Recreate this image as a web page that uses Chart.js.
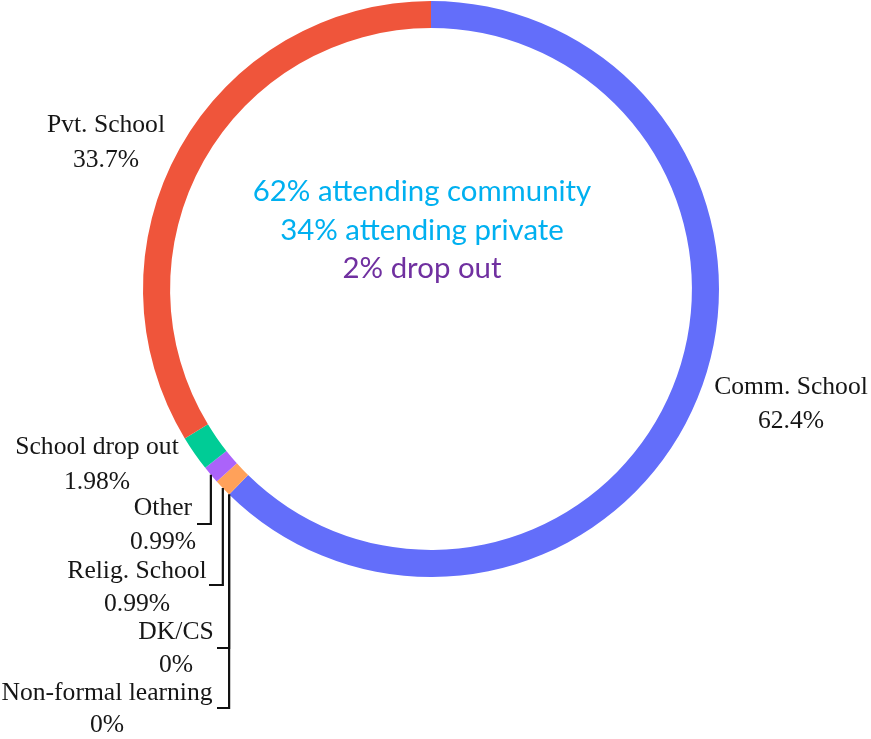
<!DOCTYPE html>
<html>
<head>
<meta charset="utf-8">
<script src="https://cdn.jsdelivr.net/npm/chart.js@4.4.1/dist/chart.umd.min.js"></script>
<style>
  html, body { margin: 0; padding: 0; background: #fff; }
  #wrap { width: 871px; height: 739px; position: relative; }
</style>
</head>
<body>
<div id="wrap"><canvas id="donut"></canvas></div>
<script>
// slices in clockwise order from 12 o'clock
const categories = ["Comm. School", "DK/CS", "Non-formal learning", "Relig. School", "Other", "School drop out", "Pvt. School"];
const shares = [62.4, 0, 0, 0.99, 0.99, 1.98, 33.7];
const shareLabels = ["62.4%", "0%", "0%", "0.99%", "0.99%", "1.98%", "33.7%"];
const sliceColors = ["#636EFA", "#19D3F3", "#FF6692", "#FFA15A", "#AB63FA", "#00CC96", "#EF553B"];
const centerLines = ["62% attending community", "34% attending private", "2% drop out"];
const centerColors = ["#00B0F0", "#00B0F0", "#7030A0"];

// where each outside label sits (text centre x, two line y's), plus leader elbow if any
const labelLayout = {
  "Comm. School":        { x: 791, y1: 387, y2: 421 },
  "Pvt. School":         { x: 106, y1: 125, y2: 160 },
  "School drop out":     { x: 97,  y1: 447, y2: 482 },
  "Other":               { x: 163, y1: 508, y2: 542, ly: 524, lx: 197 },
  "Relig. School":       { x: 137, y1: 571, y2: 604, ly: 585, lx: 209 },
  "DK/CS":               { x: 176, y1: 632, y2: 665, ly: 648, lx: 217 },
  "Non-formal learning": { x: 107, y1: 693, y2: 725, ly: 708, lx: 217 }
};

const labelPlugin = {
  id: "outsideLabels",
  afterDatasetsDraw(chart) {
    const ctx = chart.ctx;
    const meta = chart.getDatasetMeta(0);
    ctx.save();

    // leader lines from the slice's outer edge, straight down then left
    ctx.strokeStyle = "#111";
    ctx.lineWidth = 2.2;
    meta.data.forEach((arc, i) => {
      const lay = labelLayout[categories[i]];
      if (!lay || lay.ly === undefined) return;
      const mid = (arc.startAngle + arc.endAngle) / 2;
      const ax = arc.x + arc.outerRadius * Math.cos(mid);
      const ay = arc.y + arc.outerRadius * Math.sin(mid);
      ctx.beginPath();
      ctx.moveTo(ax, ay);
      ctx.lineTo(ax, lay.ly);
      ctx.lineTo(lay.lx, lay.ly);
      ctx.stroke();
    });

    // label text
    ctx.fillStyle = "#161616";
    ctx.font = "25.6px 'Liberation Serif', 'Times New Roman', serif";
    ctx.textAlign = "center";
    ctx.textBaseline = "middle";
    categories.forEach((name, i) => {
      const lay = labelLayout[name];
      ctx.fillText(name, lay.x, lay.y1);
      ctx.fillText(shareLabels[i], lay.x, lay.y2);
    });

    // centre annotation
    ctx.font = "29.4px Lato, 'Open Sans', sans-serif";
    const centreY = [192, 231, 269];
    centerLines.forEach((line, i) => {
      ctx.fillStyle = centerColors[i];
      ctx.fillText(line, 422, centreY[i]);
    });
    ctx.restore();
  }
};

new Chart(document.getElementById("donut"), {
  type: "doughnut",
  data: {
    labels: categories,
    datasets: [{
      data: shares,
      backgroundColor: sliceColors,
      borderWidth: 0
    }]
  },
  options: {
    responsive: true,
    maintainAspectRatio: false,
    animation: false,
    cutout: "90.6%",
    rotation: 0,
    layout: { padding: { left: 143, right: 152, top: 1, bottom: 162 } },
    plugins: {
      legend: { display: false },
      tooltip: { enabled: false }
    }
  },
  plugins: [labelPlugin]
});
</script>
</body>
</html>
